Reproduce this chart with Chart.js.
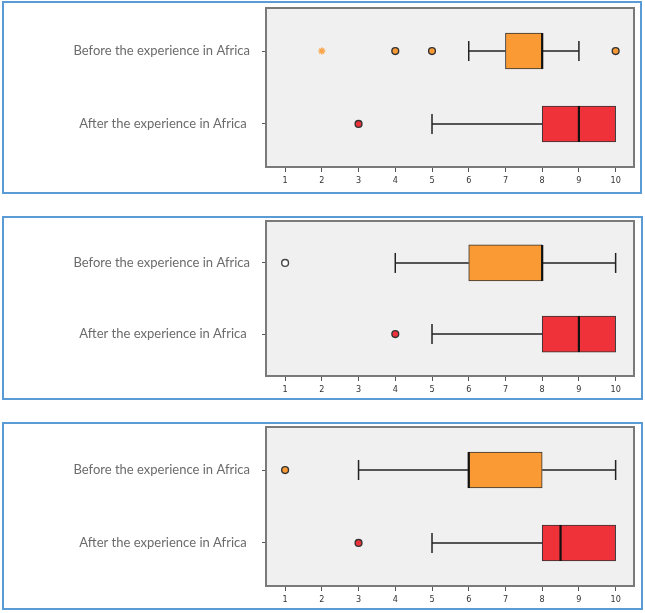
<!DOCTYPE html>
<html lang="en">
<head>
  <meta charset="UTF-8" />
  <title>Before / After the experience in Africa</title>
  <script src="https://cdn.jsdelivr.net/npm/chart.js"></script>
  <style>
    body { margin: 0; background: #fff; width: 645px; height: 613px; position: relative; overflow: hidden; }
    .frame { position: absolute; border: 2px solid #5b9bd5; box-sizing: border-box; }
    canvas { position: absolute; left: 0; }
  </style>
</head>
<body>
  <div class="frame" style="left:2px; top:1px; width:640px; height:193px;"></div>
  <div class="frame" style="left:2px; top:216px; width:641px; height:184px;"></div>
  <div class="frame" style="left:2px; top:422px; width:641px; height:188px;"></div>
  <canvas id="chart1" style="top:0px"></canvas>
  <canvas id="chart2" style="top:214px"></canvas>
  <canvas id="chart3" style="top:420px"></canvas>

  <script>
    // rows and ticks
    const rowLabels = ["Before the experience in Africa", "After the experience in Africa "];
    const xTicks = [1, 2, 3, 4, 5, 6, 7, 8, 9, 10];

    // box stats: [whisker low, q1, median, q3, whisker high]
    const p1Before = [6, 7, 8, 8, 9];
    const p1After = [5, 8, 9, 10, 10];
    const p1BeforeOutliers = [4, 5, 10];
    const p1BeforeExtremes = [2];
    const p1AfterOutliers = [3];

    const p2Before = [4, 6, 8, 8, 10];
    const p2After = [5, 8, 9, 10, 10];
    const p2BeforeOutliers = [1];
    const p2AfterOutliers = [4];

    const p3Before = [3, 6, 6, 8, 10];
    const p3After = [5, 8, 8.5, 10, 10];
    const p3BeforeOutliers = [1];
    const p3AfterOutliers = [3];

    const ORANGE = "#fa9a35";
    const RED = "#ef323a";

    const plotFrame = {
      id: "plotFrame",
      beforeDraw(chart) {
        const a = chart.chartArea, c = chart.ctx;
        c.save();
        c.fillStyle = "#f0f0f0";
        c.fillRect(a.left, a.top, a.right - a.left, a.bottom - a.top);
        c.restore();
      },
      afterDraw(chart) {
        const a = chart.chartArea, c = chart.ctx;
        c.save();
        c.strokeStyle = "#7a7a7a";
        c.lineWidth = 2;
        c.strokeRect(a.left, a.top, a.right - a.left, a.bottom - a.top);
        c.restore();
      }
    };

    function whisker(lo, hi, row, capAtStart) {
      return {
        type: "line",
        data: [{ x: lo, y: row }, { x: hi, y: row }],
        borderColor: "#222",
        borderWidth: 1.5,
        pointStyle: "line",
        rotation: 90,
        pointRadius: capAtStart ? [10, 0] : [0, 10],
        pointBorderColor: "#222",
        pointBorderWidth: 1.5,
        order: 2
      };
    }

    function makeChart(id, height, padTop, axisHeight, before, after, outliers) {
      const datasets = [{
        type: "bar",
        indexAxis: "y",
        data: [{ x: [before[1], before[3]], y: 1 }, { x: [after[1], after[3]], y: 2 }],
        backgroundColor: [ORANGE, RED],
        borderColor: "#333",
        borderWidth: 1,
        borderSkipped: false,
        barThickness: 36,
        order: 3
      }];

      [before, after].forEach((s, i) => {
        const row = i + 1;
        if (s[0] < s[1]) datasets.push(whisker(s[0], s[1], row, true));
        if (s[4] > s[3]) datasets.push(whisker(s[3], s[4], row, false));
        datasets.push({
          type: "scatter",
          data: [{ x: s[2], y: row }],
          pointStyle: "line",
          rotation: 90,
          pointRadius: 18,
          pointBorderColor: "#111",
          pointBorderWidth: 2.2,
          order: 1
        });
      });

      outliers.forEach(o => {
        datasets.push({
          type: "scatter",
          data: o.values.map(v => ({ x: v, y: o.row })),
          pointStyle: o.style || "circle",
          pointRadius: o.radius || 3.4,
          pointBackgroundColor: o.fill,
          pointBorderColor: o.stroke,
          pointBorderWidth: o.width === undefined ? 1.4 : o.width,
          order: 0
        });
      });

      const cv = document.getElementById(id);
      cv.width = 645;
      cv.height = height;
      new Chart(cv, {
        type: "scatter",
        data: { datasets },
        plugins: [plotFrame],
        options: {
          responsive: false,
          animation: false,
          events: [],
          layout: { autoPadding: false, padding: { top: padTop, right: 11, left: 0, bottom: 0 } },
          plugins: { legend: { display: false }, tooltip: { enabled: false } },
          scales: {
            x: {
              type: "linear",
              offset: false,
              beginAtZero: false,
              min: 0.48,
              max: 10.5,
              afterBuildTicks: s => { s.ticks = xTicks.map(v => ({ value: v })); },
              afterFit: s => { s.height = axisHeight; s.paddingLeft = 0; s.paddingRight = 0; },
              grid: { offset: false, drawOnChartArea: false, tickLength: 5, color: "#555", lineWidth: 1 },
              border: { display: false },
              ticks: { color: "#333", padding: 3, font: { family: "Liberation Sans Narrow, DejaVu Sans Condensed, Liberation Sans", size: 9 } }
            },
            y: {
              type: "linear",
              offset: false,
              beginAtZero: false,
              reverse: true,
              min: 0.41,
              max: 2.59,
              afterBuildTicks: s => { s.ticks = [{ value: 1 }, { value: 2 }]; },
              afterFit: s => { s.width = 266; s.paddingTop = 0; s.paddingBottom = 0; },
              grid: { offset: false, drawOnChartArea: false, tickLength: 4, color: "#555" },
              border: { display: false },
              ticks: {
                color: "#6b6b6b",
                padding: 12,
                font: { family: "Lato", size: 13 },
                callback: v => rowLabels[v - 1]
              }
            }
          }
        }
      });
    }

    makeChart("chart1", 195, 8, 28, p1Before, p1After, [
      { row: 1, values: p1BeforeExtremes, style: "star", radius: 3.5, fill: "#f9a64c", stroke: "#f9a64c", width: 1.5 },
      { row: 1, values: p1BeforeOutliers, fill: ORANGE, stroke: "#333" },
      { row: 2, values: p1AfterOutliers, fill: RED, stroke: "#333" }
    ]);

    makeChart("chart2", 188, 7, 26, p2Before, p2After, [
      { row: 1, values: p2BeforeOutliers, fill: "#ffffff", stroke: "#444" },
      { row: 2, values: p2AfterOutliers, fill: RED, stroke: "#333" }
    ]);

    makeChart("chart3", 193, 7, 27, p3Before, p3After, [
      { row: 1, values: p3BeforeOutliers, fill: ORANGE, stroke: "#333" },
      { row: 2, values: p3AfterOutliers, fill: RED, stroke: "#333" }
    ]);
  </script>
</body>
</html>
